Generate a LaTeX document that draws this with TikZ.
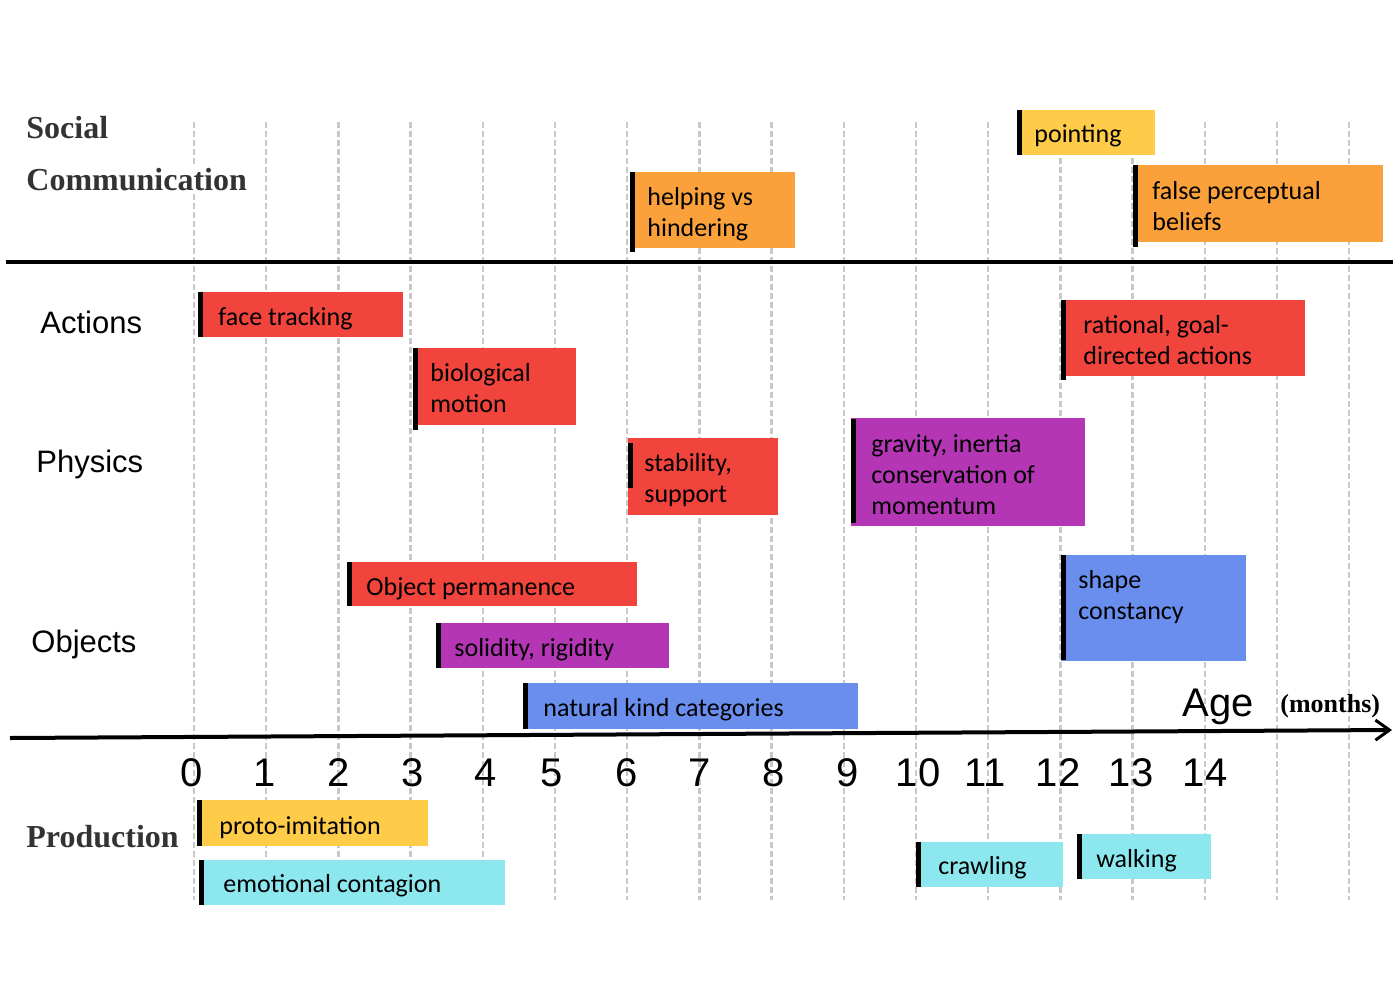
\documentclass[tikz,border=0pt]{standalone}
\usepackage{fontspec}
\setmainfont{Carlito}
\newfontfamily\arialfont{Liberation Sans}
\newfontfamily\headfont{Liberation Serif}
\usetikzlibrary{arrows.meta}

\definecolor{evred}{HTML}{F0443C}
\definecolor{evorange}{HTML}{FBA13B}
\definecolor{evyellow}{HTML}{FFCC4A}
\definecolor{evpurple}{HTML}{B536B5}
\definecolor{evblue}{HTML}{6A8EEE}
\definecolor{evcyan}{HTML}{8CE7EE}
\definecolor{gridgray}{HTML}{C8C8C8}

\tikzset{
  gridline/.style={gridgray, line width=1.2pt, dash pattern=on 3pt off 1.5pt},
  evbar/.style={fill=black},
  evtext/.style={anchor=base west, inner sep=0pt, align=left,
    font=\fontsize{13}{15.5}\selectfont},
  rowlabel/.style={anchor=base west, inner sep=0pt,
    font=\arialfont\fontsize{15.5}{18}\selectfont},
  headlabel/.style={anchor=base west, inner sep=1pt, text=black!80,
    font=\headfont\bfseries\fontsize{16}{19}\selectfont},
  monthlabel/.style={anchor=base, inner sep=0pt,
    font=\arialfont\fontsize{20}{24}\selectfont},
}

\begin{document}
\begin{tikzpicture}[x=0.5pt, y=-0.5pt]
	\useasboundingbox (0,0) rectangle (1400,1000);

	% month grid
	\foreach \i in {0,...,16}
		\draw [gridline] ({194+72.2*\i},122) -- ++(0,778);

	% social communication (multi-line nodes sit on their last baseline)
	\fill [evyellow] (1017,110) rectangle (1155,155);
	\fill [evbar] (1017,110) rectangle (1022,155);
	\node [evtext] (pointing) at (1034,143) {pointing};

	\fill [evorange] (1133,165) rectangle (1383,242);
	\fill [evbar] (1133,165) rectangle (1138,247);
	\node [evtext] (falsebelief) at (1152,230) {false perceptual\\beliefs};

	\fill [evorange] (630,172) rectangle (795,248);
	\fill [evbar] (630,172) rectangle (635,252);
	\node [evtext] (helping) at (647,236) {helping vs\\hindering};

	\draw [line width=2pt] (6,262) -- (1393,262);

	% actions
	\fill [evred] (198,292) rectangle (403,337);
	\fill [evbar] (198,292) rectangle (203,337);
	\node [evtext] (facetrack) at (218,325) {face tracking};

	\fill [evred] (413,348) rectangle (576,425);
	\fill [evbar] (413,348) rectangle (418,430);
	\node [evtext] (biomotion) at (430,412) {biological\\motion};

	\fill [evred] (1061,300) rectangle (1305,376);
	\fill [evbar] (1061,300) rectangle (1066,380);
	\node [evtext] (rational) at (1083,364) {rational, goal-\\directed actions};

	% physics
	\fill [evred] (628,438) rectangle (778,515);
	\fill [evbar] (628,443) rectangle (633,488);
	\node [evtext] (stability) at (644,502) {stability,\\support};

	\fill [evpurple] (851,418) rectangle (1085,526);
	\fill [evbar] (851,419) rectangle (856,523);
	\node [evtext] (gravity) at (871,514) {gravity, inertia\\conservation of\\momentum};

	% objects
	\fill [evred] (347,562) rectangle (637,606);
	\fill [evbar] (347,562) rectangle (352,606);
	\node [evtext] (objperm) at (366,595) {Object permanence};

	\fill [evpurple] (436,623) rectangle (669,668);
	\fill [evbar] (436,623) rectangle (441,668);
	\node [evtext] (solidity) at (454,656) {solidity, rigidity};

	\fill [evblue] (523,683) rectangle (858,729);
	\fill [evbar] (523,683) rectangle (528,729);
	\node [evtext] (natkind) at (543,716) {natural kind categories};

	\fill [evblue] (1061,555) rectangle (1246,661);
	\fill [evbar] (1061,555) rectangle (1066,660);
	\node [evtext] (shape) at (1078,619) {shape\\constancy};

	% production
	\fill [evyellow] (202,800) rectangle (428,846);
	\fill [evbar] (197,800) rectangle (202,846);
	\node [evtext] (protoimit) at (219,834) {proto-imitation};

	\fill [evcyan] (204,860) rectangle (505,905);
	\fill [evbar] (199,860) rectangle (204,905);
	\node [evtext] (emocontag) at (223,892) {emotional contagion};

	\fill [evcyan] (918,842) rectangle (1063,887);
	\fill [evbar] (916,842) rectangle (921,887);
	\node [evtext] (crawling) at (938,874) {crawling};

	\fill [evcyan] (1077,834) rectangle (1211,879);
	\fill [evbar] (1077,834) rectangle (1082,879);
	\node [evtext] (walking) at (1096,867) {walking};

	% row labels
	\node [headlabel] (social) at (24,139) {Social};
	\node [headlabel, fill=white] (communication) at (24,191) {Communication};
	\node [rowlabel] (actions) at (40,333) {Actions};
	\node [rowlabel] (physics) at (36,472) {Physics};
	\node [rowlabel] (objects) at (31,652) {Objects};
	\node [headlabel] (production) at (24,847) {Production};

	% age axis
	\coordinate (axisL) at (10,738);
	\coordinate (axisR) at (1392,730);
	\draw [line width=2pt, -{Straight Barb[length=7pt, width=10pt, line width=1.5pt]}] (axisL) -- (axisR);
	\node [anchor=base west, inner sep=0pt, font=\arialfont\fontsize{20}{24}\selectfont] (age) at (1182,716) {Age};
	\node [anchor=base west, inner sep=0pt, font=\headfont\bfseries\fontsize{13}{16}\selectfont] (months) at (1280,712) {(months)};

	\foreach \m/\x in {0/192, 1/265, 2/339, 3/413, 4/486, 5/552, 6/627, 7/700,
		8/774, 9/848, 10/918, 11/985, 12/1058, 13/1131, 14/1205}
		\node [monthlabel] (n\m) at (\x,786) {\m};

\end{tikzpicture}
\end{document}
